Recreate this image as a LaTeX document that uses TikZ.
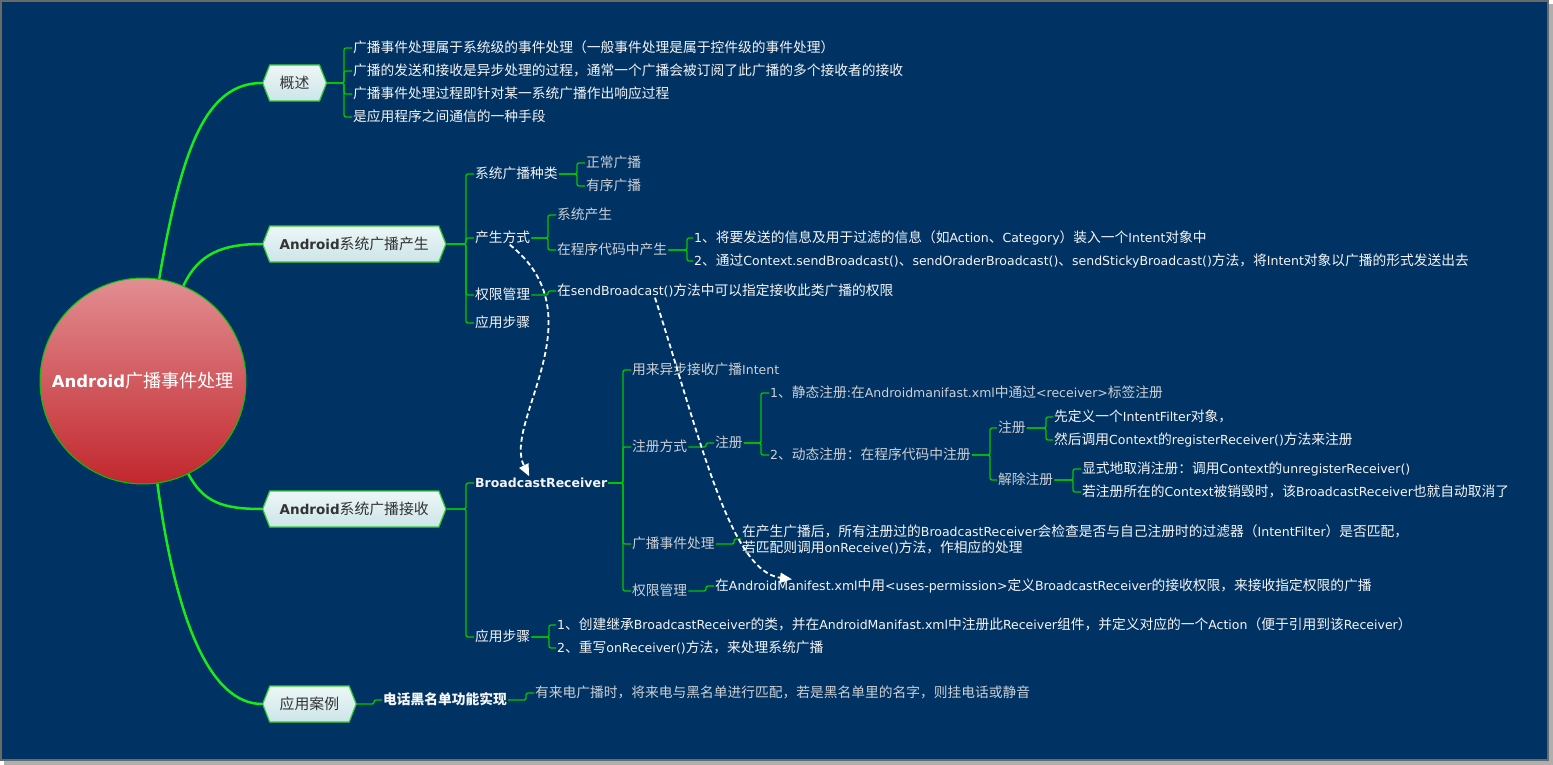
\documentclass[tikz,border=0pt]{standalone}
\usepackage{fontspec}
\usepackage{tikz}
\usetikzlibrary{arrows.meta}
\usetikzlibrary{shapes.symbols}

\setmainfont{DejaVu Sans}
\newfontfamily\latinfont{DejaVu Sans}
\newfontfamily\cjkfont[Scale=1.1]{Noto Sans CJK SC}

% switch font between latin and CJK characters
\XeTeXinterchartokenstate=1
\ifdefined\newXeTeXintercharclass
  \newXeTeXintercharclass\cjkclass
\else
  \chardef\cjkclass=7
\fi
\newcount\cjkcode
\def\setcjkrange#1#2{\cjkcode=#1\relax
  \loop\XeTeXcharclass\cjkcode=\cjkclass\relax
  \ifnum\cjkcode<#2\relax\advance\cjkcode by 1\repeat}
\setcjkrange{"3000}{"303F}
\setcjkrange{"4E00}{"9FFF}
\setcjkrange{"FF00}{"FFEF}
\XeTeXinterchartoks 0 \cjkclass={\cjkfont}
\XeTeXinterchartoks 4095 \cjkclass={\cjkfont}
\XeTeXinterchartoks \cjkclass 0={\latinfont}
\XeTeXinterchartoks \cjkclass 4095={\latinfont}

\definecolor{bg}{RGB}{0,51,100}
\definecolor{branchgreen}{RGB}{25,235,25}
\definecolor{forkgreen}{RGB}{0,200,0}
\definecolor{hexline}{RGB}{50,205,50}
\definecolor{hextop}{RGB}{238,247,247}
\definecolor{hexbot}{RGB}{204,229,233}
\definecolor{hextext}{RGB}{51,51,51}
\definecolor{rootpink}{RGB}{226,142,146}
\definecolor{rootred}{RGB}{193,39,45}
\definecolor{softwhite}{RGB}{245,245,245}
\definecolor{softgray}{RGB}{205,208,212}
\definecolor{framegray}{RGB}{105,105,105}
\definecolor{shadowgray}{RGB}{175,175,175}

\begin{document}
\begin{tikzpicture}[x=1pt,y=-1pt,
	font=\fontsize{12.5}{16}\selectfont,
	rootnode/.style={circle, minimum size=206pt, draw=forkgreen, line width=1pt,
		top color=rootpink, middle color=rootred, bottom color=rootred,
		text=white, font=\fontsize{16.5}{20}\selectfont},
	hexnode/.style={shape=signal, signal to=west and east, signal pointer angle=137,
		anchor=west, draw=hexline, line width=1.2pt, top color=hextop, bottom color=hexbot,
		text=hextext, inner xsep=10pt, minimum height=36pt, font=\fontsize{13.5}{16}\selectfont},
	leaf/.style={anchor=west, inner sep=1pt, text height=10pt, text depth=1pt, text=softwhite},
	leafgray/.style={leaf, text=softgray},
	branch/.style={draw=branchgreen, line width=2.5pt},
	fork/.style={draw=forkgreen, line width=1.3pt, rounded corners=2pt},
	flow/.style={draw=white, line width=1.8pt, dash pattern=on 5pt off 3pt,
		-{Triangle[length=12pt,width=10pt,fill=white]}}]

	\useasboundingbox (0,0) rectangle (1553,765);
	\fill[white] (0,0) rectangle (1553,765);
	\fill[shadowgray] (4,4) rectangle (1553,765);
	\filldraw[fill=bg, draw=framegray, line width=1.5pt] (1,1) rectangle (1548,760);

	\begin{scope}
	\node[rootnode] (root) at (143,381) {\textbf{Android}广播事件处理};
	\node[hexnode] (ov) at (262,83) {概述};
	\node[hexnode] (gen) at (262,244) {\textbf{Android}系统广播产生};
	\node[hexnode] (rcv) at (262,509) {\textbf{Android}系统广播接收};
	\node[hexnode] (case) at (262,704) {应用案例};
	\end{scope}

	\begin{scope}[every node/.style={leaf}]
	\node (ov1) at (352,48) {广播事件处理属于系统级的事件处理（一般事件处理是属于控件级的事件处理）};
	\node (ov2) at (352,71) {广播的发送和接收是异步处理的过程，通常一个广播会被订阅了此广播的多个接收者的接收};
	\node (ov3) at (352,94) {广播事件处理过程即针对某一系统广播作出响应过程};
	\node (ov4) at (352,117) {是应用程序之间通信的一种手段};

	\node (kind) at (474,174) {系统广播种类};
	\node (way) at (474,238) {产生方式};
	\node (perm) at (474,295) {权限管理};
	\node (genstep) at (474,323) {应用步骤};
	\node[leafgray] (normal) at (585,163) {正常广播};
	\node[leafgray] (ordered) at (585,186) {有序广播};
	\node[leafgray] (sys) at (556,215) {系统产生};
	\node[leafgray] (code) at (556,250) {在程序代码中产生};
	\node (code1) at (693,238) {1、将要发送的信息及用于过滤的信息（如Action、Category）装入一个Intent对象中};
	\node (code2) at (693,261) {2、通过Context.sendBroadcast()、sendOraderBroadcast()、sendStickyBroadcast()方法，将Intent对象以广播的形式发送出去};
	\node (permtxt) at (556,291) {在sendBroadcast()方法中可以指定接收此类广播的权限};

	\node[font=\fontsize{12.5}{16}\selectfont\bfseries] (br) at (474,483) {BroadcastReceiver};
	\node (rstep) at (474,637) {应用步骤};
	\node[leafgray] (async) at (631,370) {用来异步接收广播Intent};
	\node[leafgray] (reg) at (631,447) {注册方式};
	\node[leafgray] (handle) at (631,544) {广播事件处理};
	\node[leafgray] (rperm) at (631,591) {权限管理};
	\node[leafgray] (regin) at (714,443) {注册};
	\node[leafgray] (stat) at (769,393) {1、静态注册:在Androidmanifast.xml中通过<receiver>标签注册};
	\node[leafgray] (dyn) at (769,455) {2、动态注册：在程序代码中注册};
	\node[leafgray] (dreg) at (997,428) {注册};
	\node[leafgray] (undo) at (997,480) {解除注册};
	\node (dreg1) at (1053,417) {先定义一个IntentFilter对象，};
	\node (dreg2) at (1053,440) {然后调用Context的registerReceiver()方法来注册};
	\node (undo1) at (1081,469) {显式地取消注册：调用Context的unregisterReceiver()};
	\node (undo2) at (1081,492) {若注册所在的Context被销毁时，该BroadcastReceiver也就自动取消了};
	\node[text height=, text depth=, align=left] (handletxt) at (741,539)
		{在产生广播后，所有注册过的BroadcastReceiver会检查是否与自己注册时的过滤器（IntentFilter）是否匹配，\\若匹配则调用onReceive()方法，作相应的处理};
	\node (rpermtxt) at (714,586) {在AndroidManifest.xml中用<uses-permission>定义BroadcastReceiver的接收权限，来接收指定权限的广播};
	\node (rstep1) at (556,625) {1、创建继承BroadcastReceiver的类，并在AndroidManifast.xml中注册此Receiver组件，并定义对应的一个Action（便于引用到该Receiver）};
	\node (rstep2) at (556,648) {2、重写onReceiver()方法，来处理系统广播};

	\node[font=\fontsize{12.5}{16}\selectfont\bfseries] (black) at (382,700) {电话黑名单功能实现};
	\node[leafgray] (blacktxt) at (534,693) {有来电广播时，将来电与黑名单进行匹配，若是黑名单里的名字，则挂电话或静音};
	\end{scope}

	% main branches
	\draw[branch] (root.81) .. controls +(22,-128) and +(-57,0) .. (ov.west);
	\draw[branch] (root.67) .. controls +(15,-32) and +(-40,0) .. (gen.west);
	\draw[branch] (root.-64) .. controls +(15,28) and +(-40,0) .. (rcv.west);
	\draw[branch] (root.-82) .. controls +(18,136) and +(-52,0) .. (case.west);

	% brackets
	\draw[fork] (ov.east) -| ([xshift=-8pt]ov1.west) -- (ov1.west);
	\draw[fork] (ov.east) -| ([xshift=-8pt]ov2.west) -- (ov2.west);
	\draw[fork] (ov.east) -| ([xshift=-8pt]ov3.west) -- (ov3.west);
	\draw[fork] (ov.east) -| ([xshift=-8pt]ov4.west) -- (ov4.west);

	\draw[fork] (gen.east) -| ([xshift=-8pt]kind.west) -- (kind.west);
	\draw[fork] (gen.east) -| ([xshift=-8pt]way.west) -- (way.west);
	\draw[fork] (gen.east) -| ([xshift=-8pt]perm.west) -- (perm.west);
	\draw[fork] (gen.east) -| ([xshift=-8pt]genstep.west) -- (genstep.west);
	\draw[fork] (kind.east) -| ([xshift=-8pt]normal.west) -- (normal.west);
	\draw[fork] (kind.east) -| ([xshift=-8pt]ordered.west) -- (ordered.west);
	\draw[fork] (way.east) -| ([xshift=-8pt]sys.west) -- (sys.west);
	\draw[fork] (way.east) -| ([xshift=-8pt]code.west) -- (code.west);
	\draw[fork] (code.east) -| ([xshift=-6pt]code1.west) -- (code1.west);
	\draw[fork] (code.east) -| ([xshift=-6pt]code2.west) -- (code2.west);
	\draw[fork] (perm.east) -| ([xshift=-8pt]permtxt.west) -- (permtxt.west);

	\draw[fork] (rcv.east) -| ([xshift=-8pt]br.west) -- (br.west);
	\draw[fork] (rcv.east) -| ([xshift=-8pt]rstep.west) -- (rstep.west);
	\draw[fork] (br.east) -| ([xshift=-8pt]async.west) -- (async.west);
	\draw[fork] (br.east) -| ([xshift=-8pt]reg.west) -- (reg.west);
	\draw[fork] (br.east) -| ([xshift=-8pt]handle.west) -- (handle.west);
	\draw[fork] (br.east) -| ([xshift=-8pt]rperm.west) -- (rperm.west);
	\draw[fork] (reg.east) -| ([xshift=-8pt]regin.west) -- (regin.west);
	\draw[fork] (regin.east) -| ([xshift=-8pt]stat.west) -- (stat.west);
	\draw[fork] (regin.east) -| ([xshift=-8pt]dyn.west) -- (dyn.west);
	\draw[fork] (dyn.east) -| ([xshift=-7pt]dreg.west) -- (dreg.west);
	\draw[fork] (dyn.east) -| ([xshift=-7pt]undo.west) -- (undo.west);
	\draw[fork] (dreg.east) -| ([xshift=-7pt]dreg1.west) -- (dreg1.west);
	\draw[fork] (dreg.east) -| ([xshift=-7pt]dreg2.west) -- (dreg2.west);
	\draw[fork] (undo.east) -| ([xshift=-8pt]undo1.west) -- (undo1.west);
	\draw[fork] (undo.east) -| ([xshift=-8pt]undo2.west) -- (undo2.west);
	\draw[fork] (handle.east) -| ([xshift=-7pt]handletxt.west) -- (handletxt.west);
	\draw[fork] (rperm.east) -| ([xshift=-8pt]rpermtxt.west) -- (rpermtxt.west);
	\draw[fork] (rstep.east) -| ([xshift=-7pt]rstep1.west) -- (rstep1.west);
	\draw[fork] (rstep.east) -| ([xshift=-7pt]rstep2.west) -- (rstep2.west);

	\draw[fork] (case.east) -| ([xshift=-8pt]black.west) -- (black.west);
	\draw[fork] (black.east) -| ([xshift=-8pt]blacktxt.west) -- (blacktxt.west);

	% dashed links
	\draw[flow] ([xshift=7pt]way.south) .. controls +(90,71) and +(-27,-54) .. ([xshift=-12pt]br.north);
	\draw[flow] ([xshift=99pt]permtxt.south west) .. controls +(45,140) and +(-62,-8) .. ([xshift=78pt]rpermtxt.north west);
\end{tikzpicture}
\end{document}
